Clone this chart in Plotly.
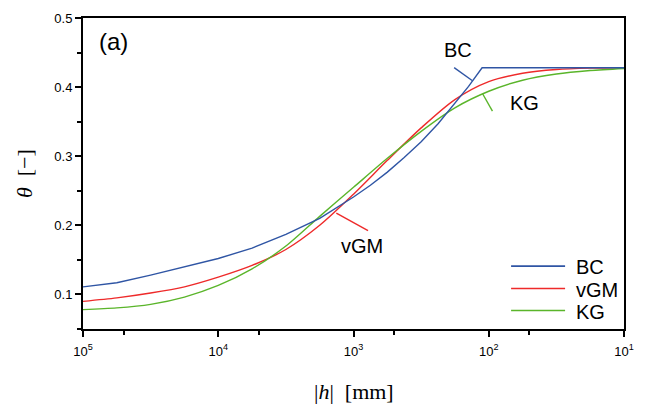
import plotly.graph_objects as go

# Suction head |h| [mm]
h_bc = [100000, 56234, 31623, 17783, 10000, 5623, 3162, 1778, 1334, 1000, 750, 562, 422, 316, 237, 178, 141, 112, 10]
theta_bc = [0.111, 0.117, 0.128, 0.140, 0.152, 0.167, 0.187, 0.210, 0.225, 0.241, 0.258, 0.277, 0.298, 0.321, 0.347, 0.376, 0.401, 0.428, 0.428]

h_vgm = [100000, 56234, 31623, 17783, 10000, 5623, 3162, 1778, 1000, 562, 316, 178, 100, 56.2, 31.6, 17.8, 10]
theta_vgm = [0.090, 0.095, 0.102, 0.111, 0.125, 0.142, 0.165, 0.200, 0.245, 0.294, 0.341, 0.382, 0.408, 0.420, 0.4255, 0.4275, 0.428]

h_kg = [100000, 56234, 31623, 17783, 10000, 5623, 3162, 1778, 1000, 562, 316, 178, 100, 56.2, 31.6, 17.8, 10]
theta_kg = [0.078, 0.0805, 0.0857, 0.0962, 0.113, 0.137, 0.170, 0.213, 0.255, 0.297, 0.336, 0.370, 0.394, 0.410, 0.419, 0.424, 0.427]

series_names = ["BC", "vGM", "KG"]
series_colors = ["#2f55a4", "#ee2a2a", "#5ab52a"]

x_tickvals = [1e5, 1e4, 1e3, 1e2, 1e1]
x_ticktext = ["10<sup>5</sup>", "10<sup>4</sup>", "10<sup>3</sup>", "10<sup>2</sup>", "10<sup>1</sup>"]
x_minor = [5e4, 5e3, 5e2, 5e1]
y_tickvals = [0.1, 0.2, 0.3, 0.4, 0.5]
y_ticktext = ["0.1", "0.2", "0.3", "0.4", "0.5"]
y_minor = [0.05, 0.15, 0.25, 0.35, 0.45]

fig = go.Figure()
fig.add_trace(go.Scatter(x=h_vgm, y=theta_vgm, mode="lines", name="vGM",
                         line=dict(color=series_colors[1], width=1.4, shape="spline", smoothing=0.8)))
fig.add_trace(go.Scatter(x=h_kg, y=theta_kg, mode="lines", name="KG",
                         line=dict(color=series_colors[2], width=1.4, shape="spline", smoothing=0.8)))
fig.add_trace(go.Scatter(x=h_bc, y=theta_bc, mode="lines", name="BC",
                         line=dict(color=series_colors[0], width=1.4)))

W, H = 645, 407
L, R, T, B = 83, 11, 14, 78
pw, ph = W - L - R, H - T - B

def px(x):
    return (x - L) / pw

def py(y):
    return (H - B - y) / ph

shapes = []
annotations = []

# leader lines for in-plot labels
leaders = [((461, 64.3), (479.3, 77.3), series_colors[0]),
           ((490, 90.7), (500, 108.3), series_colors[2]),
           ((341, 211.7), (373.3, 229.3), series_colors[1])]
for (a, b, c) in leaders:
    shapes.append(dict(type="line", xref="paper", yref="paper",
                       x0=px(a[0]), y0=py(a[1]), x1=px(b[0]), y1=py(b[1]),
                       line=dict(color=c, width=1.4)))

label_font = dict(family="Liberation Sans, Arial", size=20, color="black")
annotations.append(dict(text="BC", x=px(465), y=py(46.5), xref="paper", yref="paper",
                        showarrow=False, font=label_font, xanchor="center", yanchor="middle"))
annotations.append(dict(text="KG", x=px(533), y=py(100.5), xref="paper", yref="paper",
                        showarrow=False, font=label_font, xanchor="center", yanchor="middle"))
annotations.append(dict(text="vGM", x=px(367), y=py(245), xref="paper", yref="paper",
                        showarrow=False, font=label_font, xanchor="center", yanchor="middle"))
annotations.append(dict(text="(a)", x=px(114), y=py(38), xref="paper", yref="paper",
                        showarrow=False, font=dict(family="Liberation Sans, Arial", size=24, color="black"),
                        xanchor="center", yanchor="middle"))

# legend (drawn inside the plot, bottom right)
leg_rows = [265.3, 288, 310.3]
for name, col, yy in zip(series_names, series_colors, leg_rows):
    shapes.append(dict(type="line", xref="paper", yref="paper",
                       x0=px(519), x1=px(574), y0=py(yy), y1=py(yy),
                       line=dict(color=col, width=1.6)))
    annotations.append(dict(text=name, x=px(583), y=py(yy + 1), xref="paper", yref="paper",
                            showarrow=False, font=label_font, xanchor="left", yanchor="middle"))

# axis titles
annotations.append(dict(text="|<i>h</i>|  [mm]", x=px(358.5), y=py(392), xref="paper", yref="paper",
                        showarrow=False, font=dict(family="Liberation Serif, Times New Roman", size=22, color="black"),
                        xanchor="center", yanchor="middle"))
annotations.append(dict(text="<i>θ</i>  [−]", x=px(24), y=py(172), xref="paper", yref="paper",
                        showarrow=False, textangle=-90,
                        font=dict(family="Liberation Serif, Times New Roman", size=22, color="black"),
                        xanchor="center", yanchor="middle"))

fig.update_layout(
    width=W, height=H,
    margin=dict(l=L, r=R, t=T, b=B),
    paper_bgcolor="white", plot_bgcolor="white",
    showlegend=False,
    shapes=shapes, annotations=annotations,
    font=dict(family="Liberation Sans, Arial", size=12, color="black"),
)
fig.update_xaxes(
    type="log", range=[5, 1],
    tickmode="array", tickvals=x_tickvals, ticktext=x_ticktext,
    ticks="outside", ticklen=6, tickwidth=1.5, tickcolor="black",
    showline=True, linewidth=2, linecolor="black", mirror=True,
    showgrid=False, zeroline=False, ticklabelstandoff=3,
    tickfont=dict(family="Liberation Sans, Arial", size=13, color="black"),
    minor=dict(tickmode="array", tickvals=x_minor, ticks="outside", ticklen=4, tickwidth=1.5,
               tickcolor="black", showgrid=False),
)
fig.update_yaxes(
    range=[0.05, 0.5],
    tickmode="array", tickvals=y_tickvals, ticktext=y_ticktext,
    ticks="outside", ticklen=6, tickwidth=1.5, tickcolor="black",
    showline=True, linewidth=2, linecolor="black", mirror=True,
    showgrid=False, zeroline=False,
    tickfont=dict(family="Liberation Sans, Arial", size=13, color="black"),
    minor=dict(tickmode="array", tickvals=y_minor, ticks="outside", ticklen=4, tickwidth=1.5,
               tickcolor="black", showgrid=False),
)

fig.write_html("out.html", config={"displayModeBar": False},
               post_script="document.body.style.margin='0';document.body.style.padding='0';document.body.style.overflow='hidden';")
